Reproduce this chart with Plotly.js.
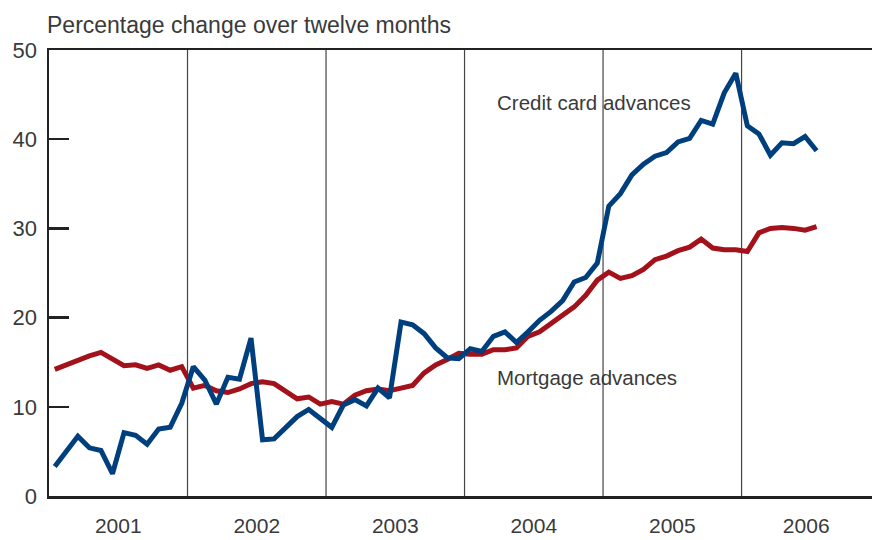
<!DOCTYPE html>
<html>
<head>
<meta charset="utf-8">
<script src="https://cdn.plot.ly/plotly-3.0.1.min.js"></script>
<style>html,body{margin:0;padding:0;background:#fff;}#chart{width:872px;height:540px;}</style>
</head>
<body>
<div id="chart"></div>
<script>
// Monthly data, January 2001 – July 2006 (month index 0 = Jan 2001)
const months = Array.from({length: 67}, (_, i) => i + 0.5);
const creditCard = [
  3.3, 5.0, 6.7, 5.4, 5.1, 2.5, 7.1, 6.8, 5.8, 7.5, 7.7, 10.4,
  14.5, 13.0, 10.3, 13.3, 13.1, 17.7, 6.3, 6.4, 7.7, 8.9, 9.7, 8.7,
  7.7, 10.2, 10.8, 10.1, 12.1, 11.0, 19.5, 19.2, 18.2, 16.6, 15.5, 15.4,
  16.5, 16.2, 17.9, 18.4, 17.2, 18.4, 19.7, 20.7, 21.9, 24.0, 24.5, 26.1,
  32.5, 33.9, 36.0, 37.2, 38.1, 38.5, 39.7, 40.1, 42.1, 41.7, 45.2, 47.4,
  41.5, 40.6, 38.2, 39.6, 39.5, 40.3, 38.7
];
const mortgage = [
  14.2, 14.7, 15.3, 15.7, 16.1, 15.3, 14.6, 14.7, 14.3, 14.7, 14.1, 14.5,
  12.1, 12.4, 11.8, 11.6, 12.0, 12.6, 12.8, 12.6, 11.7, 10.9, 11.1, 10.3,
  10.6, 10.3, 11.3, 11.8, 12.0, 11.8, 12.1, 12.4, 13.8, 14.7, 15.3, 16.0,
  15.9, 15.9, 16.4, 16.4, 16.6, 17.9, 18.4, 19.3, 20.2, 21.2, 22.5, 24.2,
  25.1, 24.4, 24.7, 25.4, 26.5, 26.9, 27.5, 27.9, 28.8, 27.8, 27.6, 27.6,
  27.4, 29.5, 30.0, 30.1, 30.0, 29.8, 30.2
];
const yearLabels = ['2001', '2002', '2003', '2004', '2005', '2006'];
const yearLabelPos = [6, 18, 30, 42, 54, 65.6];
const yearBoundaries = [12, 24, 36, 48, 60];

const txt = '#3a3a3a';
const fontFam = 'Liberation Sans, Arial, sans-serif';

const traces = [
  {x: months, y: mortgage, type: 'scatter', mode: 'lines', name: 'Mortgage advances',
   line: {color: '#a3111a', width: 5}},
  {x: months, y: creditCard, type: 'scatter', mode: 'lines', name: 'Credit card advances',
   line: {color: '#003f7d', width: 5}}
];

const shapes = yearBoundaries.map(b => ({
  type: 'line', xref: 'x', yref: 'y', x0: b, x1: b, y0: 0, y1: 50,
  line: {color: '#444', width: 1.2}, layer: 'below'
}));

const layout = {
  width: 872, height: 540,
  margin: {l: 49, r: 0, t: 50, b: 44, pad: 0},
  paper_bgcolor: '#fff', plot_bgcolor: '#fff',
  showlegend: false,
  font: {family: fontFam, color: txt, size: 22},
  xaxis: {
    range: [0, 71.3], showgrid: false, zeroline: false,
    showline: true, linecolor: '#222', linewidth: 2.5, mirror: true,
    ticks: '', tickmode: 'array', tickvals: yearLabelPos, ticktext: yearLabels,
    tickfont: {size: 21, color: txt, family: fontFam}, ticklabelstandoff: 9
  },
  yaxis: {
    range: [0, 50], showgrid: false, zeroline: false,
    showline: true, linecolor: '#222', linewidth: 2.5, mirror: false,
    ticks: 'inside', ticklen: 20, tickwidth: 2.5, tickcolor: '#222',
    tickmode: 'linear', tick0: 0, dtick: 10,
    tickfont: {size: 22, color: txt, family: fontFam}, ticklabelstandoff: 5
  },
  shapes: shapes,
  annotations: [
    {text: 'Percentage change over twelve months', xref: 'paper', yref: 'paper',
     x: 0, y: 1, xanchor: 'left', yanchor: 'bottom', xshift: -4, yshift: 10, showarrow: false,
     font: {size: 23, color: txt, family: fontFam}},
    {text: 'Credit card advances', xref: 'x', yref: 'y', x: 38.9, y: 44.1,
     xanchor: 'left', yanchor: 'middle', xshift: -3, showarrow: false,
     font: {size: 20.5, color: txt, family: fontFam}},
    {text: 'Mortgage advances', xref: 'x', yref: 'y', x: 38.9, y: 13.3,
     xanchor: 'left', yanchor: 'middle', xshift: -3, showarrow: false,
     font: {size: 20.5, color: txt, family: fontFam}}
  ]
};

Plotly.newPlot('chart', traces, layout, {displayModeBar: false, staticPlot: true});
</script>
</body>
</html>
